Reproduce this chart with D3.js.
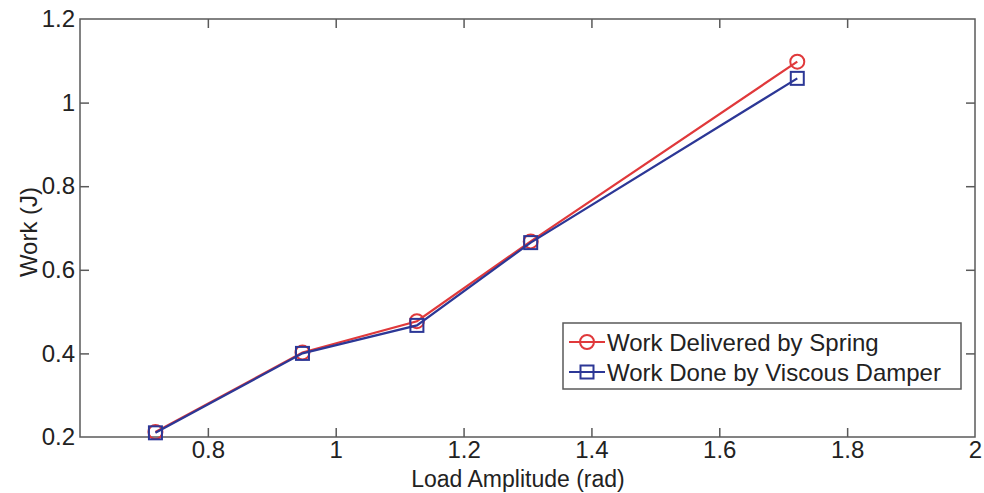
<!DOCTYPE html>
<html>
<head>
<meta charset="utf-8">
<script src="https://cdn.jsdelivr.net/npm/d3@7"></script>
<style>
  html, body { margin: 0; padding: 0; background: #fff; }
  svg { display: block; font-family: "Liberation Sans", Arial, sans-serif; }
</style>
</head>
<body>
<svg id="chart" width="984" height="493"></svg>
<script>
// Load amplitude (rad) for each test
const loadAmplitude = [0.718, 0.948, 1.127, 1.305, 1.722];
// Work delivered by the spring (J)
const springWork = [0.212, 0.402, 0.477, 0.668, 1.098];
// Work done by the viscous damper (J)
const damperWork = [0.210, 0.400, 0.467, 0.665, 1.058];

const xTicks = [0.8, 1, 1.2, 1.4, 1.6, 1.8, 2];
const yTicks = [0.2, 0.4, 0.6, 0.8, 1, 1.2];
const seriesNames = ["Work Delivered by Spring", "Work Done by Viscous Damper"];

const svg = d3.select("#chart");
const plotLeft = 80, plotRight = 975, plotTop = 19, plotBottom = 437;
const axisColor = "#5a5a5a";
const textColor = "#222";
const red = "#e0393b";
const blue = "#2c3796";
const fontFamily = "'Liberation Sans', Arial, sans-serif";
const fontSize = 24;

const x = d3.scaleLinear().domain([0.6, 2]).range([plotLeft, plotRight]);
const y = d3.scaleLinear().domain([0.2, 1.2]).range([plotBottom, plotTop]);

const tickLen = 9;

// frame
svg.append("rect")
  .attr("x", plotLeft).attr("y", plotTop)
  .attr("width", plotRight - plotLeft).attr("height", plotBottom - plotTop)
  .attr("fill", "none").attr("stroke", axisColor).attr("stroke-width", 1.5);

// bottom axis (inward ticks) + mirrored top ticks
const xAxis = d3.axisBottom(x).tickValues(xTicks).tickSizeInner(-tickLen).tickSizeOuter(0)
  .tickPadding(4).tickFormat(d3.format("~g"));
const gx = svg.append("g").attr("transform", `translate(0,${plotBottom})`).call(xAxis);
gx.attr("font-size", fontSize).attr("font-family", fontFamily);
gx.select(".domain").remove();
gx.selectAll(".tick line").attr("stroke", axisColor).attr("stroke-width", 1.5)
  .filter(d => d === 2).remove();
gx.selectAll(".tick text").attr("fill", textColor);

const gxTop = svg.append("g").attr("transform", `translate(0,${plotTop})`)
  .call(d3.axisTop(x).tickValues(xTicks.filter(d => d < 2)).tickSizeInner(-tickLen).tickSizeOuter(0).tickFormat(""));
gxTop.select(".domain").remove();
gxTop.selectAll(".tick line").attr("stroke", axisColor).attr("stroke-width", 1.5);

// left axis + mirrored right ticks
const yAxis = d3.axisLeft(y).tickValues(yTicks).tickSizeInner(-tickLen).tickSizeOuter(0)
  .tickPadding(5).tickFormat(d3.format("~g"));
const gy = svg.append("g").attr("transform", `translate(${plotLeft},0)`).call(yAxis);
gy.attr("font-size", fontSize).attr("font-family", fontFamily);
gy.select(".domain").remove();
gy.selectAll(".tick line").attr("stroke", axisColor).attr("stroke-width", 1.5)
  .filter(d => d === 0.2 || d === 1.2).remove();
gy.selectAll(".tick text").attr("fill", textColor);

const gyRight = svg.append("g").attr("transform", `translate(${plotRight},0)`)
  .call(d3.axisRight(y).tickValues(yTicks.filter(d => d > 0.2 && d < 1.2)).tickSizeInner(-tickLen).tickSizeOuter(0).tickFormat(""));
gyRight.select(".domain").remove();
gyRight.selectAll(".tick line").attr("stroke", axisColor).attr("stroke-width", 1.5);

// axis titles
svg.append("text")
  .attr("x", 518).attr("y", 487)
  .attr("text-anchor", "middle").attr("font-size", 23).attr("font-family", fontFamily)
  .attr("fill", textColor)
  .text("Load Amplitude (rad)");
svg.append("text")
  .attr("transform", "translate(37,232) rotate(-90)")
  .attr("text-anchor", "middle").attr("font-size", fontSize).attr("font-family", fontFamily)
  .attr("fill", textColor)
  .text("Work (J)");

// series
const springPts = loadAmplitude.map((v, i) => [v, springWork[i]]);
const damperPts = loadAmplitude.map((v, i) => [v, damperWork[i]]);
const line = d3.line().x(d => x(d[0])).y(d => y(d[1]));

svg.append("path").datum(springPts)
  .attr("d", line).attr("fill", "none").attr("stroke", red).attr("stroke-width", 2.2);
svg.append("g").selectAll("circle").data(springPts).join("circle")
  .attr("cx", d => x(d[0])).attr("cy", d => y(d[1])).attr("r", 7)
  .attr("fill", "none").attr("stroke", red).attr("stroke-width", 2);

svg.append("path").datum(damperPts)
  .attr("d", line).attr("fill", "none").attr("stroke", blue).attr("stroke-width", 2.2);
const sq = 13;
svg.append("g").selectAll("rect").data(damperPts).join("rect")
  .attr("x", d => x(d[0]) - sq / 2).attr("y", d => y(d[1]) - sq / 2)
  .attr("width", sq).attr("height", sq)
  .attr("fill", "none").attr("stroke", blue).attr("stroke-width", 2);

// legend
const lg = svg.append("g").attr("transform", "translate(563,323)");
lg.append("rect").attr("width", 398).attr("height", 66)
  .attr("fill", "#fff").attr("stroke", axisColor).attr("stroke-width", 1.5);
const rows = [
  { name: seriesNames[0], color: red, shape: "circle", cy: 19 },
  { name: seriesNames[1], color: blue, shape: "square", cy: 49 }
];
rows.forEach(r => {
  lg.append("line").attr("x1", 6).attr("x2", 42).attr("y1", r.cy).attr("y2", r.cy)
    .attr("stroke", r.color).attr("stroke-width", 2);
  if (r.shape === "circle") {
    lg.append("circle").attr("cx", 24).attr("cy", r.cy).attr("r", 7)
      .attr("fill", "none").attr("stroke", r.color).attr("stroke-width", 2);
  } else {
    lg.append("rect").attr("x", 24 - sq / 2).attr("y", r.cy - sq / 2).attr("width", sq).attr("height", sq)
      .attr("fill", "none").attr("stroke", r.color).attr("stroke-width", 2);
  }
  lg.append("text").attr("x", 44).attr("y", r.cy + 8.5)
    .attr("font-size", fontSize).attr("font-family", fontFamily)
    .attr("fill", textColor).text(r.name);
});
</script>
</body>
</html>
